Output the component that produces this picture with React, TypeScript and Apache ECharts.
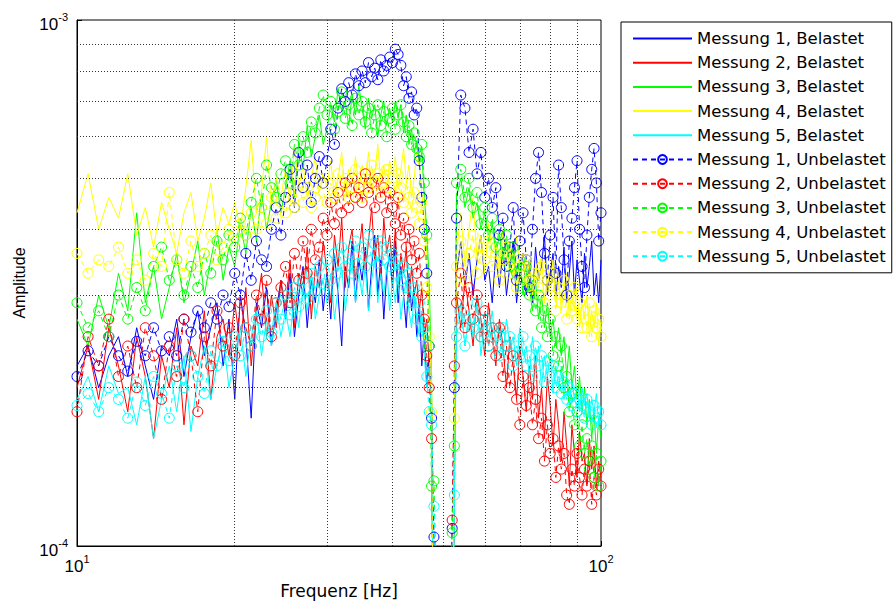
import React, { useEffect, useRef } from 'react';
import * as echarts from 'echarts';

// Frequency grid [Hz]
const freq = [
  10, 10.5, 11, 11.5, 12, 12.5, 13, 13.5, 14, 14.5,
  15, 15.5, 16, 16.5, 17, 17.5, 18, 18.5, 19, 19.5,
  20, 20.5, 21, 21.5, 22, 22.5, 23, 23.5, 24, 24.5,
  25, 25.5, 26, 26.5, 27, 27.5, 28, 28.5, 29, 29.5,
  30, 30.5, 31, 31.5, 32, 32.5, 33, 33.5, 34, 34.5,
  35, 35.5, 36, 36.5, 37, 37.5, 38, 38.5, 39, 39.5,
  40, 40.5, 41, 41.5, 42, 42.5, 43, 43.5, 44, 44.5,
  45, 45.5, 46, 46.5, 47, 47.5, 48,
  50, 52, 52.5,
  53, 54, 55, 56, 57, 58, 59, 60, 61, 62,
  63, 64, 65, 66, 67, 68, 69, 70, 71, 72,
  73, 74, 75, 76, 77, 78, 79, 80, 81, 82,
  83, 84, 85, 86, 87, 88, 89, 90, 91, 92,
  93, 94, 95, 96, 97, 98, 99, 100,
];

// Amplitudes in units of 1e-4
const m1Belastet = [
  2.2, 2.4, 2.0, 2.3, 2.5, 2.1, 2.6, 2.2, 1.9, 2.4,
  2.3, 2.7, 2.1, 2.5, 2.8, 2.3, 2.6, 2.9, 2.2, 2.7,
  1.9, 3.0, 2.5, 1.75, 2.9, 2.6, 3.1, 2.4, 2.8, 3.2,
  2.7, 3.3, 2.5, 3.0, 3.4, 2.6, 3.2, 2.9, 3.5, 2.8,
  3.3, 2.7, 3.6, 3.0, 2.4, 3.4, 3.1, 3.8, 2.9, 3.5,
  3.2, 3.7, 2.8, 3.4, 3.9, 3.0, 3.5, 2.7, 3.3, 3.6,
  3.1, 3.8, 2.9, 3.4, 3.0, 2.6, 3.3, 2.8, 3.1, 2.5,
  2.9, 2.2, 2.6, 2.0, 2.3, 1.85, 0.4,
  0.2, 0.4, 1.6,
  3.3, 3.8, 3.1, 3.6, 3.0, 3.5, 3.9, 3.2, 3.4, 2.9,
  3.6, 3.1, 3.7, 3.0, 3.4, 3.8, 2.9, 3.3, 3.6, 3.0,
  3.5, 2.9, 3.7, 3.2, 3.4, 3.9, 3.0, 3.3, 3.6, 2.95,
  3.4, 3.1, 3.7, 2.9, 3.3, 3.8, 3.0, 3.5, 3.2, 2.9,
  3.6, 3.1, 3.4, 3.8, 3.0, 3.3, 2.9, 3.5,
];
const m2Belastet = [
  2.0, 2.4, 1.9, 2.6, 2.2, 1.8, 2.5, 2.1, 1.6, 2.3,
  2.0, 2.6, 1.7, 2.4, 2.2, 2.8, 1.9, 2.5, 2.7, 2.3,
  2.9, 2.4, 3.1, 2.2, 2.8, 3.3, 2.5, 3.0, 2.6, 3.2,
  2.8, 3.5, 2.6, 3.3, 3.0, 3.7, 2.7, 3.4, 3.1, 3.8,
  3.3, 2.9, 3.9, 3.4, 4.2, 3.1, 3.7, 4.0, 3.2, 3.6,
  4.1, 3.3, 3.8, 4.4, 3.5, 3.9, 3.2, 4.2, 3.6, 3.9,
  3.4, 4.0, 3.1, 3.6, 3.3, 3.7, 2.9, 3.4, 3.0, 3.2,
  2.8, 3.1, 2.5, 2.7, 2.2, 1.9, 0.4,
  0.2, 0.4, 1.3,
  3.0, 2.6, 3.2, 2.8, 2.4, 3.0, 2.7, 2.3, 2.9, 2.5,
  2.2, 2.7, 2.4, 2.0, 2.5, 2.2, 1.9, 2.4, 2.1, 1.8,
  2.2, 1.9, 2.3, 1.75, 2.0, 1.6, 2.1, 1.85, 1.55, 1.9,
  1.7, 1.45, 1.8, 1.55, 1.3, 1.7, 1.5, 1.35, 1.65, 1.45,
  1.5, 1.3, 1.6, 1.4, 1.55, 1.3, 1.45, 1.35,
];
const m3Belastet = [
  2.7, 2.4, 3.0, 2.6, 3.3, 2.8, 4.3, 2.9, 3.4, 2.7,
  3.1, 3.6, 2.9, 3.3, 3.8, 3.0, 3.5, 4.0, 3.2, 3.7,
  3.4, 4.1, 3.6, 4.4, 3.8, 4.7, 4.0, 4.5, 5.0, 4.3,
  4.8, 5.4, 4.6, 5.9, 5.2, 6.3, 5.5, 6.0, 6.6, 5.8,
  6.2, 6.9, 6.4, 7.4, 6.7, 7.0, 6.3, 7.2, 6.6, 7.5,
  6.8, 6.2, 7.1, 6.5, 6.9, 6.0, 6.6, 7.0, 6.3, 6.8,
  6.4, 7.0, 6.5, 6.9, 6.1, 6.6, 5.8, 6.2, 5.6, 5.9,
  5.3, 5.6, 4.6, 4.0, 3.2, 2.1, 0.4,
  0.2, 0.4, 1.5,
  4.6, 5.0, 4.4, 4.8, 4.2, 4.5, 4.0, 4.3, 3.8, 4.1,
  3.6, 3.9, 3.5, 3.8, 3.3, 3.6, 3.2, 3.5, 3.0, 3.3,
  3.1, 2.8, 3.2, 2.7, 3.0, 2.6, 2.9, 2.5, 2.7, 2.4,
  2.6, 2.3, 2.5, 2.1, 2.4, 2.0, 2.2, 1.9, 2.1, 1.8,
  2.0, 1.7, 1.9, 1.6, 1.8, 1.5, 1.75, 1.6,
];
const m4Belastet = [
  4.3, 5.1, 4.0, 4.6, 4.2, 5.1, 3.9, 4.4, 3.7, 4.5,
  4.0, 3.6, 4.3, 4.7, 3.8, 4.2, 4.9, 3.9, 4.4, 4.1,
  4.5, 4.0, 4.8, 5.9, 4.3, 4.7, 6.0, 4.4, 5.0, 4.6,
  5.2, 4.5, 5.7, 4.8, 5.3, 4.6, 5.0, 5.5, 4.7, 5.1,
  4.8, 5.4, 4.6, 5.0, 5.6, 4.7, 5.2, 4.9, 5.5, 4.8,
  5.3, 4.9, 5.6, 4.7, 5.1, 5.8, 4.9, 5.3, 4.8, 5.4,
  5.0, 5.5, 4.8, 5.2, 5.7, 4.9, 5.3, 4.6, 5.0, 5.6,
  5.3, 4.7, 4.2, 3.6, 2.8, 2.0, 0.4,
  0.2, 0.4, 2.0,
  3.6, 4.3, 3.4, 4.0, 4.6, 3.5, 3.9, 3.3, 4.1, 3.6,
  3.8, 3.3, 4.0, 3.5, 3.7, 3.2, 3.9, 3.4, 3.6, 3.1,
  3.5, 3.0, 3.4, 3.2, 3.6, 2.9, 3.3, 3.1, 3.5, 2.9,
  3.2, 2.8, 3.1, 3.3, 2.7, 3.0, 2.8, 3.1, 2.6, 2.9,
  2.7, 3.0, 2.5, 2.8, 2.6, 2.9, 2.4, 2.7,
];
const m5Belastet = [
  1.9, 2.1, 1.8, 2.2, 1.95, 2.0, 1.7, 2.1, 1.6, 1.9,
  2.2, 1.8, 2.3, 1.65, 2.1, 2.4, 1.9, 2.2, 2.5, 2.0,
  2.3, 2.6, 2.1, 2.5, 2.8, 2.3, 2.7, 2.4, 2.9, 2.5,
  2.8, 2.5, 3.0, 2.6, 3.1, 2.8, 3.3, 2.7, 3.0, 3.2,
  2.9, 3.3, 2.7, 3.1, 3.4, 2.8, 3.2, 3.5, 2.9, 3.3,
  3.0, 3.4, 2.8, 3.2, 3.5, 2.9, 3.3, 3.0, 3.4, 2.8,
  3.2, 2.9, 3.3, 2.7, 3.0, 3.2, 2.8, 2.6, 3.0, 2.7,
  2.5, 2.8, 2.3, 2.0, 2.2, 1.7, 0.4,
  0.2, 0.4, 1.25,
  2.6, 2.9, 2.4, 2.8, 2.5, 2.9, 2.3, 2.7, 2.5, 2.8,
  2.4, 2.6, 2.3, 2.7, 2.4, 2.5, 2.2, 2.6, 2.3, 2.4,
  2.1, 2.5, 2.2, 2.4, 2.0, 2.3, 2.1, 2.3, 1.95, 2.2,
  2.0, 2.2, 1.9, 2.1, 1.85, 2.05, 1.9, 2.0, 1.8, 2.0,
  1.85, 1.95, 1.75, 1.9, 1.8, 1.95, 1.7, 1.85,
];
const m1Unbelastet = [
  2.1, 2.35, 2.2, 2.5, 2.3, 2.15, 2.45, 2.3, 2.6, 2.35,
  2.5, 2.3, 2.7, 2.55, 2.8, 2.6, 2.9, 2.7, 3.0, 2.85,
  3.3, 3.0, 3.6, 3.2, 3.8, 3.5, 3.4, 4.0, 4.4, 3.9,
  4.6, 5.2, 4.4, 5.6, 4.8, 5.3, 4.5, 5.0, 5.5, 4.9,
  5.4, 6.2, 5.8, 6.8, 7.4, 7.0, 7.6, 7.2, 7.9, 7.5,
  8.0, 7.6, 8.3, 7.8, 8.1, 7.7, 8.4, 8.0, 8.2, 8.5,
  8.3, 8.8, 8.6, 8.2, 7.5, 7.8, 7.1, 7.3, 6.6, 6.8,
  5.4, 4.6, 4.0, 3.3, 2.4, 1.75, 1.04,
  0.2, 1.08, 2.0,
  4.2, 7.2, 6.8, 5.6, 6.2, 5.1, 5.6, 4.6, 5.0, 4.4,
  4.8, 3.9, 4.2, 3.4, 3.7, 4.4, 3.2, 3.8, 4.3, 3.5,
  3.1, 4.0, 5.0, 5.6, 4.7, 3.6, 3.2, 3.9, 4.6, 3.3,
  5.3, 4.4, 3.5, 3.0, 3.8, 4.2, 4.8, 5.4, 4.0, 3.4,
  3.1, 3.9, 4.6, 5.2, 5.7, 4.9, 3.8, 4.3,
];
const m2Unbelastet = [
  1.8, 2.5, 2.2, 2.7, 2.1, 2.4, 2.0, 2.6, 2.3, 1.9,
  2.4, 2.1, 2.7, 2.3, 1.8, 2.5, 2.2, 2.8, 2.4, 2.6,
  2.3, 2.9, 2.6, 2.4, 3.0, 2.7, 3.2, 2.5, 2.9, 3.1,
  3.4, 2.9, 3.6, 3.2, 3.8, 3.3, 4.0, 3.5, 3.7, 4.2,
  3.9, 4.5, 4.1, 4.7, 4.3, 4.9, 4.4, 5.0, 4.6, 4.8,
  4.5, 5.1, 4.7, 4.9, 4.4, 5.0, 4.6, 4.8, 4.3, 4.7,
  4.4, 4.1, 4.6, 3.9, 4.2, 3.7, 4.0, 3.5, 3.8, 3.3,
  3.6, 3.0, 2.7, 2.3, 2.0, 1.6, 0.35,
  0.2, 1.12, 2.2,
  2.9, 3.3, 2.6, 3.1, 2.7, 3.0, 2.5, 2.8, 2.4, 2.6,
  2.3, 2.6, 2.1, 2.4, 2.0, 2.3, 1.9, 1.7, 2.1, 1.85,
  2.0, 1.7, 1.9, 1.6, 1.75, 1.45, 1.7, 1.5, 1.6, 1.35,
  1.55, 1.4, 1.5, 1.25, 1.2, 1.4, 1.3, 1.5, 1.35, 1.25,
  1.4, 1.3, 1.45, 1.2, 1.35, 1.25, 1.4, 1.3,
];
const m3Unbelastet = [
  2.9, 2.6, 2.8, 2.5, 3.0, 2.7, 3.1, 2.8, 3.4, 3.7,
  3.2, 3.5, 3.0, 3.4, 3.1, 3.6, 3.3, 3.8, 3.5, 3.9,
  3.7, 4.2, 3.9, 4.5, 5.0, 4.4, 5.3, 4.8, 4.6, 5.1,
  5.4, 4.9, 5.8, 5.3, 6.0, 5.6, 6.4, 6.1, 6.8, 7.2,
  6.6, 7.0, 6.2, 6.7, 7.3, 6.5, 6.9, 6.3, 7.1, 6.6,
  7.0, 6.4, 6.8, 6.1, 6.6, 6.9, 6.3, 6.7, 6.0, 6.5,
  6.8, 6.2, 6.6, 6.9, 6.4, 6.0, 6.3, 5.8, 6.1, 5.7,
  5.5, 5.8, 4.9, 3.9, 2.4, 1.3, 1.33,
  0.2, 1.06, 1.55,
  4.9, 5.2, 4.6, 5.0, 4.4, 4.7, 4.1, 4.4, 3.9, 4.2,
  3.7, 4.0, 3.6, 3.9, 3.4, 3.7, 3.3, 3.5, 3.1, 3.4,
  3.0, 3.2, 2.8, 3.0, 2.6, 2.8, 2.5, 2.7, 2.3, 2.5,
  2.2, 2.4, 2.0, 2.1, 1.8, 1.95, 1.7, 1.8, 1.55, 1.7,
  1.5, 1.6, 1.4, 1.55, 1.35, 1.5, 1.3, 1.45,
];
const m4Unbelastet = [
  3.6, 3.3, 3.5, 3.4, 3.7, 3.3, 3.5, 3.2, 3.6, 3.4,
  4.7, 3.5, 3.3, 3.8, 3.4, 3.6, 3.9, 3.5, 3.7, 4.0,
  3.8, 4.1, 3.9, 4.3, 4.0, 4.4, 4.1, 4.6, 4.2, 4.5,
  4.3, 4.7, 4.4, 4.9, 4.5, 4.8, 4.4, 4.6, 5.0, 4.7,
  4.5, 4.9, 4.6, 5.1, 4.7, 5.0, 4.6, 4.8, 5.2, 4.9,
  4.6, 5.0, 4.8, 5.3, 4.9, 5.1, 4.7, 5.0, 5.2, 4.8,
  5.0, 4.7, 5.1, 4.8, 4.5, 4.9, 4.6, 4.3, 4.7, 4.4,
  4.1, 4.5, 3.8, 3.1, 2.5, 1.8, 0.35,
  0.2, 0.35, 1.75,
  3.4, 3.8, 3.2, 3.6, 3.9, 3.3, 3.7, 3.5, 3.8, 3.4,
  3.6, 3.2, 3.5, 3.7, 3.3, 3.5, 3.1, 3.4, 3.2, 3.5,
  3.2, 3.0, 3.3, 3.1, 3.4, 2.9, 3.2, 3.0, 3.3, 2.8,
  3.1, 2.9, 3.2, 2.7, 3.0, 2.8, 3.1, 2.7, 2.9, 2.6,
  2.8, 2.6, 2.9, 2.5, 2.8, 2.6, 2.7, 2.5,
];
const m5Unbelastet = [
  1.85, 1.95, 1.8, 2.0, 1.9, 1.75, 2.05, 1.85, 2.1, 1.95,
  1.75, 2.2, 2.0, 2.3, 2.1, 1.95, 2.35, 2.2, 2.45, 2.25,
  2.5, 2.3, 2.6, 2.4, 2.7, 2.5, 2.8, 2.55, 2.9, 2.7,
  3.0, 2.75, 3.1, 2.85, 3.2, 2.95, 3.3, 3.05, 3.4, 3.15,
  3.5, 3.2, 3.6, 3.3, 3.7, 3.4, 3.6, 3.3, 3.8, 3.45,
  3.7, 3.4, 3.9, 3.5, 3.75, 3.45, 3.8, 3.5, 3.7, 3.4,
  3.6, 3.3, 3.5, 3.2, 3.4, 3.1, 3.3, 2.9, 3.1, 2.7,
  2.9, 2.5, 2.6, 2.1, 1.8, 1.7, 1.19,
  0.2, 0.35, 1.25,
  2.5, 2.8, 2.4, 2.7, 2.6, 2.9, 2.5, 2.7, 2.4, 2.6,
  2.5, 2.3, 2.6, 2.4, 2.5, 2.2, 2.4, 2.3, 2.5, 2.2,
  2.3, 2.1, 2.4, 2.2, 2.3, 2.05, 2.25, 2.1, 2.2, 2.0,
  2.1, 1.95, 2.05, 1.9, 2.0, 1.85, 1.95, 1.8, 1.9, 1.85,
  1.75, 1.9, 1.8, 1.7, 1.85, 1.75, 1.8, 1.7,
];

const gridFreqs = [20, 30, 40, 50, 60, 70, 80, 90];
const gridAmps = [2e-4, 3e-4, 4e-4, 5e-4, 6e-4, 7e-4, 8e-4, 9e-4];
const xRange = [10, 100];
const yRange = [1e-4, 1e-3];

const belastetNames = [
  'Messung 1, Belastet', 'Messung 2, Belastet', 'Messung 3, Belastet',
  'Messung 4, Belastet', 'Messung 5, Belastet',
];
const unbelastetNames = [
  'Messung 1, Unbelastet', 'Messung 2, Unbelastet', 'Messung 3, Unbelastet',
  'Messung 4, Unbelastet', 'Messung 5, Unbelastet',
];
const colors = ['#0000ff', '#ff0000', '#00ff00', '#ffff00', '#00ffff'];
const belastetData = [m1Belastet, m2Belastet, m3Belastet, m4Belastet, m5Belastet];
const unbelastetData = [m1Unbelastet, m2Unbelastet, m3Unbelastet, m4Unbelastet, m5Unbelastet];

const FONT = 'Liberation Sans, Arial, Helvetica, sans-serif';
const FONT2 = 'DejaVu Sans, Verdana, sans-serif';

export default function App() {
  const ref = useRef<HTMLDivElement>(null);
  useEffect(() => {
    const chart = echarts.init(ref.current!, null, { renderer: 'svg' });
    const toData = (v: number[]) => freq.map((f, i) => [f, v[i] * 1e-4]);
    const series: any[] = [];
    series.push({
      type: 'line',
      name: '__grid',
      data: [],
      silent: true,
      z: 1,
      markLine: {
        silent: true,
        animation: false,
        symbol: ['none', 'none'],
        label: { show: false },
        emphasis: { disabled: true },
        lineStyle: { type: [1, 2], color: '#333', width: 1 },
        data: [
          ...gridFreqs.map((x) => [{ coord: [x, yRange[0]] }, { coord: [x, yRange[1]] }]),
          ...gridAmps.map((y) => [{ coord: [xRange[0], y] }, { coord: [xRange[1], y] }]),
        ],
      },
    });
    belastetData.forEach((arr, k) => {
      series.push({
        type: 'line',
        name: belastetNames[k],
        data: toData(arr),
        symbol: 'none',
        showSymbol: false,
        z: 2,
        silent: true,
        lineStyle: { color: colors[k], width: 1, type: 'solid' },
        itemStyle: { color: 'transparent', borderColor: 'transparent', borderWidth: 0 },
      });
    });
    unbelastetData.forEach((arr, k) => {
      series.push({
        type: 'line',
        name: unbelastetNames[k],
        data: toData(arr),
        symbol: 'circle',
        symbolSize: 10,
        showSymbol: true,
        z: 3,
        silent: true,
        lineStyle: { color: colors[k], width: 1, type: [5, 4] },
        itemStyle: { color: 'transparent', borderColor: colors[k], borderWidth: 1 },
      });
    });

    const supLabel = (v: number) => `{b|10}{s|${Math.round(Math.log10(v))}}`;
    const rich = {
      b: { fontSize: 17, fontFamily: FONT, color: '#000', lineHeight: 26 },
      s: { fontSize: 11, fontFamily: FONT, color: '#000', verticalAlign: 'top', lineHeight: 12 },
    };

    chart.setOption({
      animation: false,
      backgroundColor: '#fff',
      grid: {
        left: 77, top: 20, right: 293, bottom: 59,
        show: true, borderColor: '#000', borderWidth: 1, backgroundColor: 'transparent',
      },
      legend: {
        data: [...belastetNames, ...unbelastetNames],
        orient: 'vertical',
        left: 621,
        top: 22,
        itemWidth: 59,
        itemHeight: 11,
        itemGap: 7.2,
        padding: [8, 6, 8, 11],
        borderColor: '#000',
        borderWidth: 1,
        backgroundColor: '#fff',
        selectedMode: false,
        textStyle: { fontSize: 16.5, fontFamily: FONT2, color: '#000', lineHeight: 16 },
      },
      xAxis: {
        type: 'log',
        logBase: 10,
        min: xRange[0],
        max: xRange[1],
        name: 'Frequenz [Hz]',
        nameLocation: 'middle',
        nameGap: 36,
        nameTextStyle: { fontSize: 17, fontFamily: FONT2, color: '#000', verticalAlign: 'top' },
        axisLine: { show: true, lineStyle: { color: '#000', width: 1 } },
        axisTick: { show: true, inside: true, length: 5, lineStyle: { color: '#000' } },
        splitLine: { show: false },
        axisLabel: {
          formatter: supLabel,
          fontSize: 17,
          fontFamily: FONT,
          color: '#000',
          rich,
          margin: 7,
          showMinLabel: true,
          showMaxLabel: true,
        },
      },
      yAxis: {
        type: 'log',
        logBase: 10,
        min: yRange[0],
        max: yRange[1],
        name: 'Amplitude',
        nameLocation: 'middle',
        nameGap: 50,
        nameRotate: 90,
        nameTextStyle: { fontSize: 16, fontFamily: FONT, color: '#000' },
        axisLine: { show: true, lineStyle: { color: '#000', width: 1 } },
        axisTick: { show: true, inside: true, length: 5, lineStyle: { color: '#000' } },
        splitLine: { show: false },
        axisLabel: {
          formatter: supLabel,
          fontSize: 17,
          fontFamily: FONT,
          color: '#000',
          rich,
          margin: 9,
          padding: [8, 0, 0, 0],
          showMinLabel: true,
          showMaxLabel: true,
        },
      },
      series,
    });
    return () => chart.dispose();
  }, []);
  return (
    <div
      ref={ref}
      style={{ position: 'fixed', left: 0, top: 0, width: 894, height: 605, background: '#fff' }}
    />
  );
}
